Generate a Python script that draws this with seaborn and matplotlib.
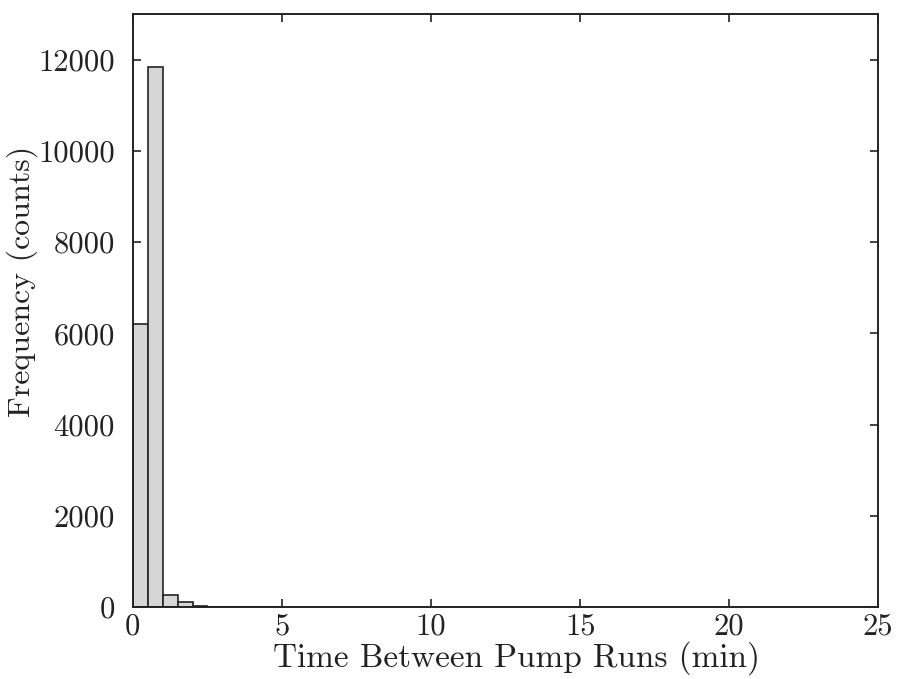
import numpy as np
import pandas as pd
import matplotlib
matplotlib.use("Agg")
import matplotlib.pyplot as plt
import seaborn as sns

# Histogram data (bin width 0.5 min)
bin_edges = [0.0, 0.5, 1.0, 1.5, 2.0, 2.5, 3.0, 3.5, 4.0, 4.5, 5.0]
counts = [6200, 11850, 270, 110, 15, 10, 6, 5, 4, 3]
x_ticks = [0, 5, 10, 15, 20, 25]
y_ticks = [0, 2000, 4000, 6000, 8000, 10000, 12000]

sns.set_style("ticks")
plt.rcParams["font.family"] = ["cmr10", "DejaVu Serif"]
plt.rcParams["axes.formatter.use_mathtext"] = True
plt.rcParams["mathtext.fontset"] = "cm"

centers = [(bin_edges[i] + bin_edges[i + 1]) / 2 for i in range(len(counts))]
df = pd.DataFrame({"time": centers, "count": counts})

fig = plt.figure(figsize=(8.98, 6.79), dpi=100)
ax = fig.add_axes([0.148, 0.106, 0.830, 0.873])

sns.histplot(data=df, x="time", weights="count", bins=bin_edges, ax=ax,
             color="#d6d6d6", edgecolor="#222222", linewidth=1.2, alpha=1.0)

ax.set_xlim(0, 25)
ax.set_ylim(0, 13000)
ax.set_xticks(x_ticks)
ax.set_yticks(y_ticks)
ax.set_xticklabels([str(t) for t in x_ticks])
ax.set_yticklabels([str(t) for t in y_ticks])
ax.tick_params(direction="in", top=True, right=True, length=6, width=1.2,
               labelsize=22, colors="#222222")
ax.tick_params(axis="y", pad=13)
ax.tick_params(axis="x", pad=4)
for s in ax.spines.values():
    s.set_linewidth(1.4)
    s.set_color("#222222")
    s.set_visible(True)

ax.set_xlabel("Time Between Pump Runs (min)", fontsize=24, color="#222222")
ax.set_ylabel("Frequency (counts)", fontsize=23, color="#222222")
ax.xaxis.set_label_coords(0.514, -0.058)
ax.yaxis.set_label_coords(-0.1275, 0.55)

fig.savefig("out.png", dpi=100)
